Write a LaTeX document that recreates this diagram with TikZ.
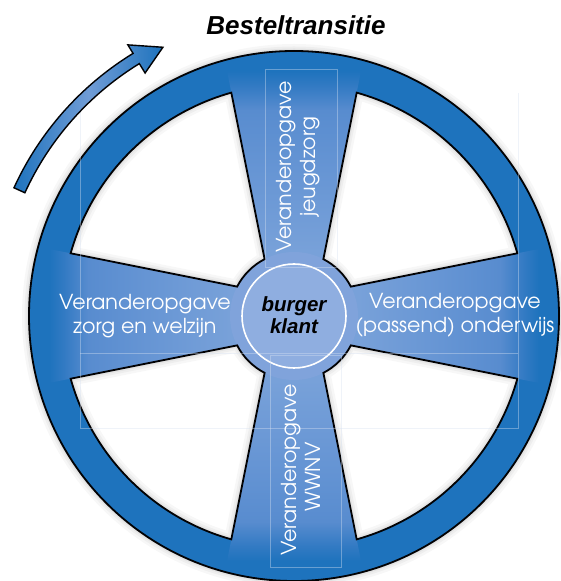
\documentclass[tikz,border=0pt]{standalone}
\usepackage{fontspec}
\setmainfont{Liberation Sans}
\newfontfamily\gothic{TeX Gyre Adventor}
\usetikzlibrary{calc}
\definecolor{rimblue}{RGB}{30,115,189}
\definecolor{hubblue}{RGB}{128,163,219}
\definecolor{hubinner}{RGB}{143,174,224}
\definecolor{spa}{RGB}{120,161,217}
\definecolor{spb}{RGB}{102,149,212}
\definecolor{spc}{RGB}{88,140,207}
\definecolor{spd}{RGB}{50,122,195}
\definecolor{arrowhl}{RGB}{112,156,214}
\definecolor{faintc}{RGB}{215,226,242}
\definecolor{edgeblack}{RGB}{2,2,4}
\pgfdeclareverticalshading{spokeshade}{100bp}{color(0bp)=(spa); color(25bp)=(spa); color(38bp)=(spa); color(55bp)=(spb); color(67bp)=(spc); color(72bp)=(spd); color(75bp)=(rimblue); color(100bp)=(rimblue)}
\tikzset{
  wheeledge/.style={draw=edgeblack, draw opacity=1, line width=1.8pt},
  faintline/.style={draw=faintc, line width=0.6pt, opacity=0.4},
  lbl/.style={font=\gothic\fontsize{20.6}{24}\selectfont, text=white, align=center, inner sep=0pt},
  hubtext/.style={font=\bfseries\itshape\fontsize{20.5}{22}\selectfont, text=black, align=center, inner sep=0pt},
}
\newcommand{\spokeup}{(276,265) -- (227,510) -- (361,510) -- (312,265) -- cycle}
\newcommand{\spokedown}{(276,265) -- (227,20) -- (361,20) -- (312,265) -- cycle}
\newcommand{\spokeleft}{(294,247) -- (49,198) -- (49,332) -- (294,283) -- cycle}
\newcommand{\spokeright}{(294,247) -- (539,198) -- (539,332) -- (294,283) -- cycle}
\newcommand{\wheelpath}{(C) circle[radius=265pt]
  foreach \t in {45,135,225,315}{
    ($(C)+({\t+29.32}:232pt)$) arc[start angle={\t+29.32}, end angle={\t-29.32}, radius=232pt]
    -- ($(C)+({\t-17.69}:64pt)$) arc[start angle={\t-17.69}, end angle={\t+17.69}, radius=64pt]
    -- cycle}}
\begin{document}
\begin{tikzpicture}[x=1pt,y=1pt]
\fill[white] (0,0) rectangle (561,581);
\useasboundingbox (0,0) rectangle (561,581);
\coordinate (C) at (294,265);
% soft shadow
\begin{scope}[shift={(4,-5)}]
\foreach \w/\o in {14/0.03,9/0.035,5/0.045,2/0.05}{
    \draw[black, line width=\w pt, draw opacity=\o] \wheelpath;
}
\end{scope}
% wheel body
\fill[rimblue, even odd rule] \wheelpath;
\shade[shading=spokeshade, shading angle=0] \spokeup;
\shade[shading=spokeshade, shading angle=180] \spokedown;
\shade[shading=spokeshade, shading angle=90] \spokeleft;
\shade[shading=spokeshade, shading angle=270] \spokeright;
\fill[hubblue] (C) circle[radius=64pt];
\draw[wheeledge] \wheelpath;
\draw[white, line width=1.6pt, fill=hubinner] (C) circle[radius=52pt];
% faint text-box lines
\draw[faintline] (265,314) rectangle (337,512);
\draw[faintline] (270,14) rectangle (341,226);
\draw[faintline] (80,488) -- (80,153) -- (518,153) -- (518,488);
\draw[faintline] (80,228) -- (518,228);
% labels
\node[lbl] (zorg) at (145,265) {Veranderopgave\\zorg en welzijn};
\node[lbl] (onderwijs) at (455,266) {Veranderopgave\\(passend) onderwijs};
\node[lbl, rotate=90] (jeugd) at (298,414) {Veranderopgave\\jeugdzorg};
\node[lbl, rotate=90] (wwnv) at (301,111) {Veranderopgave\\WWNV\hspace*{14pt}};
\node[hubtext] (klant) at (294,266) {burger\\klant};
% arrow
\draw[draw=edgeblack, draw opacity=1, line width=1.4pt, left color=rimblue, right color=rimblue, middle color=arrowhl]
  ($(C)+(155.4:308pt)$) arc[start angle=155.4, end angle=121.5, radius=308pt]
  -- ($(C)+(121.5:318pt)$) -- ($(C)+(116:299pt)$) -- ($(C)+(121.5:285pt)$)
  -- ($(C)+(121.5:296pt)$) arc[start angle=121.5, end angle=155.4, radius=296pt] -- cycle;
% title
\node[font=\bfseries\itshape\fontsize{26}{30}\selectfont, anchor=base, inner sep=0pt] (title) at (296,546) {Besteltransitie};
\end{tikzpicture}
\end{document}
